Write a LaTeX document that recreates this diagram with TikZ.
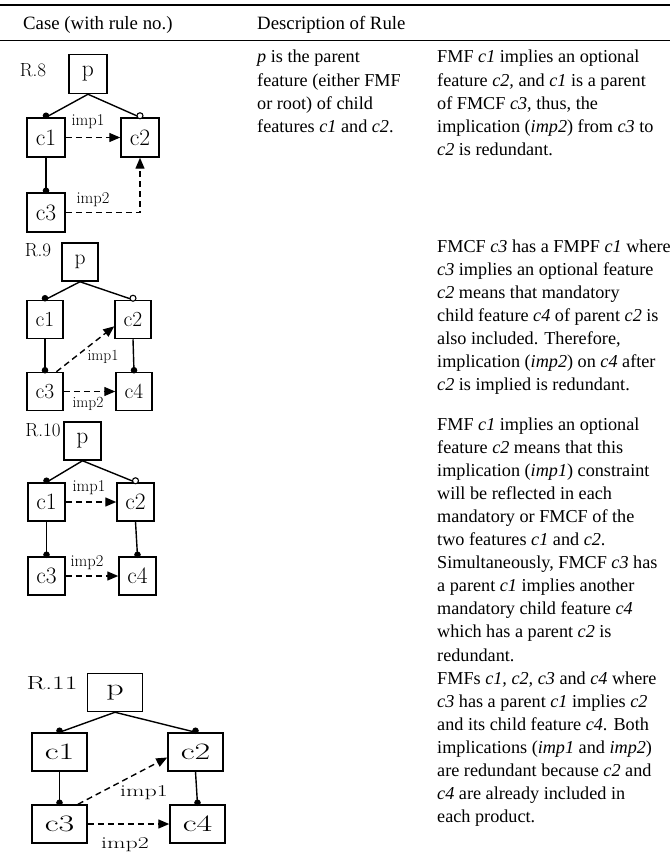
\documentclass[tikz,border=0pt]{standalone}
\usepackage{fontspec}
\usepackage{graphicx}
\setmainfont{Liberation Serif}
\newfontfamily\diagfont{Latin Modern Roman}
\usetikzlibrary{arrows.meta}

% horizontally stretched label text for the last diagram
\newcommand\wide[1]{\scalebox{1.45}[1]{#1}}
% one text line per node, baseline spaced 23.1pt
\newcommand\paralines[4]{%
  \foreach \txt [count=\k from 0] in {#4} {%
    \node[bodytext] (#3\k) at (#1, #2+23.1*\k) {\txt};}}

\tikzset{
  featbox/.style={draw, line width=1.5pt, inner sep=0pt, minimum width=38pt,
    minimum height=39pt, font=\diagfont\fontsize{23.5}{23.5}\selectfont},
  tie/.style={line width=1.4pt},
  impl/.style={line width=1.4pt, dash pattern=on 6pt off 4pt,
    -{Triangle[length=11pt,width=9pt]}},
  implbl/.style={font=\diagfont\fontsize{16.5}{16.5}\selectfont, inner sep=0pt},
  rulelbl/.style={font=\diagfont\fontsize{19}{19}\selectfont, inner sep=0pt},
  bodytext/.style={anchor=base west, inner sep=0pt,
    font=\fontsize{18.2}{23.1}\selectfont},
  headtext/.style={anchor=base west, inner sep=0pt,
    font=\fontsize{18.8}{22}\selectfont},
}
\newcommand\mandot[1]{\fill ([yshift=1.5pt]#1) circle (3.3pt);}
\newcommand\optdot[1]{\draw[line width=1.1pt, fill=white] ([yshift=1.5pt]#1) circle (3pt);}

\begin{document}
\begin{tikzpicture}[x=1pt, y=-1pt]
\useasboundingbox (0,0) rectangle (670,853);

% table rules and header
\draw[line width=2pt] (0,5) -- (670,5);
\draw[line width=1.6pt] (0,40.5) -- (670,40.5);
\node[headtext] (hcase) at (23,30) {Case (with rule no.)};
\node[headtext] (hdesc) at (257,30) {Description of Rule};

% ---------------- R.8 ----------------
\node[rulelbl] (r8) at (33,70) {R.8};
\node[featbox] (r8p)  at (88,74)    {p};
\node[featbox] (r8c1) at (46,137.5) {c1};
\node[featbox] (r8c2) at (140,137.5){c2};
\node[featbox] (r8c3) at (46,212.5) {c3};
\draw[tie] (r8p.south) -- (r8c1.north);
\draw[tie] (r8p.south) -- (r8c2.north);
\draw[tie] (r8c1.south) -- (r8c3.north);
\mandot{r8c1.north}
\optdot{r8c2.north}
\mandot{r8c3.north}
\draw[impl] (r8c1.east) -- (r8c2.west);
\draw[impl] (r8c3.east) -| (r8c2.south);
\node[implbl] (r8i1) at (88,122) {imp1};
\node[implbl] (r8i2) at (93,200) {imp2};

% ---------------- R.9 ----------------
\begin{scope}[featbox/.append style={minimum width=36pt, minimum height=38pt,
    font=\diagfont\fontsize{21.5}{21.5}\selectfont},
  implbl/.append style={font=\diagfont\fontsize{15.5}{15.5}\selectfont}]
\node[rulelbl] (r9) at (38,250) {R.9};
\node[featbox] (r9p)  at (80,262)    {p};
\node[featbox] (r9c1) at (45,319.5)  {c1};
\node[featbox] (r9c2) at (133,319.5) {c2};
\node[featbox] (r9c3) at (45,391.5)  {c3};
\node[featbox] (r9c4) at (134,391.5) {c4};
\draw[tie] (r9p.south) -- (r9c1.north);
\draw[tie] (r9p.south) -- (r9c2.north);
\draw[tie] (r9c1.south) -- (r9c3.north);
\draw[tie] (r9c2.south) -- (r9c4.north);
\mandot{r9c1.north}
\optdot{r9c2.north}
\mandot{r9c3.north}
\mandot{r9c4.north}
\draw[impl] (r9c3.60) -- (r9c2.200);
\draw[impl] (r9c3.east) -- (r9c4.west);
\node[implbl] (r9i1) at (103,357) {imp1};
\node[implbl] (r9i2) at (88,404) {imp2};
\end{scope}

% ---------------- R.10 ----------------
\begin{scope}[featbox/.append style={minimum width=37pt, minimum height=38pt}]
\node[rulelbl] (r10) at (43,430) {R.10};
\node[featbox] (r10p)  at (82.5,441) {p};
\node[featbox] (r10c1) at (46.5,502) {c1};
\node[featbox] (r10c2) at (135.5,502){c2};
\node[featbox] (r10c3) at (46.5,576) {c3};
\node[featbox] (r10c4) at (137.5,576){c4};
\draw[tie] (r10p.south) -- (r10c1.north);
\draw[tie] (r10p.south) -- (r10c2.north);
\draw[tie] (r10c1.south) -- (r10c3.north);
\draw[tie] (r10c2.south) -- (r10c4.north);
\mandot{r10c1.north}
\optdot{r10c2.north}
\mandot{r10c3.north}
\mandot{r10c4.north}
\draw[impl] (r10c1.east) -- (r10c2.west);
\draw[impl] (r10c3.east) -- (r10c4.west);
\node[implbl] (r10i1) at (89,488) {imp1};
\node[implbl] (r10i2) at (87,563) {imp2};
\end{scope}

% ---------------- R.11 ----------------
\begin{scope}[featbox/.append style={minimum width=55pt, minimum height=38pt}]
\node[rulelbl] (r11) at (52,683) {\wide{R.11}};
\node[featbox] (r11p)  at (115,692.5) {\wide{p}};
\node[featbox] (r11c1) at (59.5,752)  {\wide{c1}};
\node[featbox] (r11c2) at (195.5,752) {\wide{c2}};
\node[featbox] (r11c3) at (59.5,824)  {\wide{c3}};
\node[featbox] (r11c4) at (197.5,824) {\wide{c4}};
\draw[tie] (r11p.south) -- (r11c1.north);
\draw[tie] (r11p.south) -- (r11c2.north);
\draw[tie] (r11c1.south) -- (r11c3.north);
\draw[tie] (r11c2.south) -- (r11c4.north);
\mandot{r11c1.north}
\mandot{r11c2.north}
\mandot{r11c3.north}
\mandot{r11c4.north}
\draw[impl] (r11c3.47) -- (r11c2.191);
\draw[impl] (r11c3.east) -- (r11c4.west);
\node[implbl] (r11i1) at (144,793) {\wide{imp1}};
\node[implbl] (r11i2) at (125,845) {\wide{imp2}};
\end{scope}

% ---------------- descriptions ----------------
\paralines{257}{63}{dA}{%
  {\textit{p} is the parent},
  {feature (either FMF},
  {or root) of child},
  {features \textit{c1} and \textit{c2}.}}
\paralines{437}{63}{dB}{%
  {FMF \textit{c1} implies an optional},
  {feature \textit{c2,} and \textit{c1} is a parent},
  {of FMCF \textit{c3}, thus, the},
  {implication (\textit{imp2}) from \textit{c3} to},
  {\textit{c2} is redundant.}}
\paralines{437}{252}{dC}{%
  {FMCF \textit{c3} has a FMPF \textit{c1} where},
  {\textit{c3} implies an optional feature},
  {\textit{c2} means that mandatory},
  {child feature \textit{c4} of parent \textit{c2} is},
  {also included. Therefore,},
  {implication (\textit{imp2}) on \textit{c4} after},
  {\textit{c2} is implied is redundant.}}
\paralines{437}{430}{dD}{%
  {FMF \textit{c1} implies an optional},
  {feature \textit{c2} means that this},
  {implication (\textit{imp1}) constraint},
  {will be reflected in each},
  {mandatory or FMCF of the},
  {two features \textit{c1} and \textit{c2}.},
  {Simultaneously, FMCF \textit{c3} has},
  {a parent \textit{c1} implies another},
  {mandatory child feature \textit{c4}},
  {which has a parent \textit{c2} is},
  {redundant.},
  {FMFs \textit{c1, c2, c3} and \textit{c4} where},
  {\textit{c3} has a parent \textit{c1} implies \textit{c2}},
  {and its child feature \textit{c4}. Both},
  {implications (\textit{imp1} and \textit{imp2})},
  {are redundant because \textit{c2} and},
  {\textit{c4} are already included in},
  {each product.}}
\end{tikzpicture}
\end{document}
